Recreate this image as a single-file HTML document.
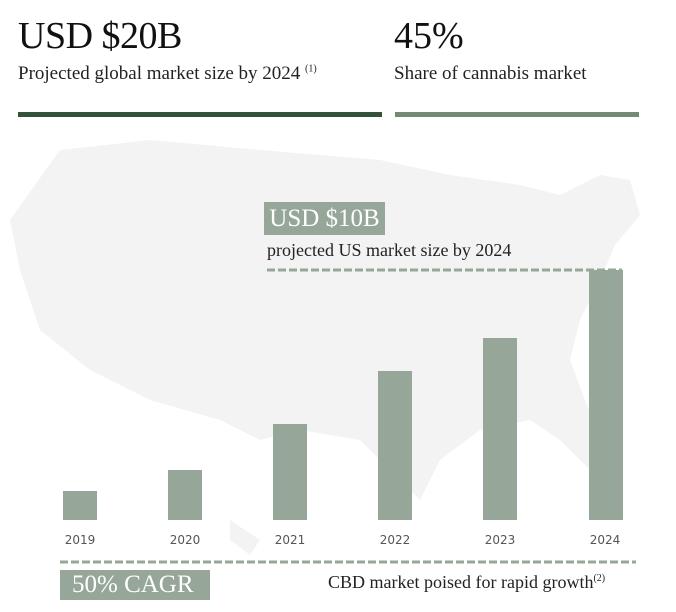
<!DOCTYPE html>
<html><head><style>
body{margin:0;width:676px;height:612px;background:#fff;position:relative;overflow:hidden;font-family:"Liberation Serif",serif;}
.a{position:absolute;}
.bar{position:absolute;background:#96a698;width:34px;}
.yr{position:absolute;top:533px;font-family:"DejaVu Sans",sans-serif;font-size:12px;color:#555;width:60px;text-align:center;}
</style></head><body>
<svg class="a" style="left:0;top:0" width="676" height="612">
<path d="M60,150 L150,140 L260,150 L380,160 L450,175 L520,185 L560,195 L600,175 L630,180 L640,215 L615,245 L600,280 L580,320 L570,360 L585,400 L600,440 L590,470 L560,440 L530,420 L480,430 L440,460 L420,500 L400,480 L360,440 L300,430 L260,440 L220,420 L150,400 L90,370 L40,330 L20,270 L10,220 Z" fill="#f3f3f3"/>
<path d="M230,520 L260,540 L250,555 L230,540 Z" fill="#f3f3f3"/>
<line x1="267" y1="270" x2="622" y2="270" stroke="#96a698" stroke-width="3" stroke-dasharray="8,3"/>
<line x1="60" y1="562" x2="636" y2="562" stroke="#96a698" stroke-width="3" stroke-dasharray="8,3"/>
</svg>
<div class="a" style="left:18px;top:14px;font-size:38px;color:#111;letter-spacing:-0.5px">USD $20B</div>
<div class="a" style="left:18px;top:63px;font-size:19px;color:#222">Projected global market size by 2024 <sup style="font-size:10px">(1)</sup></div>
<div class="a" style="left:394px;top:14px;font-size:38px;color:#111">45%</div>
<div class="a" style="left:394px;top:63px;font-size:19px;color:#222">Share of cannabis market</div>
<div class="a" style="left:18px;top:112px;width:364px;height:5px;background:#34513a"></div>
<div class="a" style="left:395px;top:112px;width:244px;height:5px;background:#728a76"></div>
<div class="a" style="left:264px;top:202px;width:121px;height:33px;background:#96a698;color:#fff;font-size:25px;line-height:33px;text-align:center">USD $10B</div>
<div class="a" style="left:267px;top:240px;font-size:18px;color:#222">projected US market size by 2024</div>
<div class="bar" style="left:63px;top:491px;height:29px"></div>
<div class="bar" style="left:168px;top:470px;height:50px"></div>
<div class="bar" style="left:273px;top:424px;height:96px"></div>
<div class="bar" style="left:378px;top:371px;height:149px"></div>
<div class="bar" style="left:483px;top:338px;height:182px"></div>
<div class="bar" style="left:589px;top:270px;height:250px"></div>
<div class="yr" style="left:50px">2019</div>
<div class="yr" style="left:155px">2020</div>
<div class="yr" style="left:260px">2021</div>
<div class="yr" style="left:365px">2022</div>
<div class="yr" style="left:470px">2023</div>
<div class="yr" style="left:575px">2024</div>
<div class="a" style="left:60px;top:570px;height:30px;background:#96a698;color:#fff;font-size:25px;line-height:30px;padding-left:12px;width:138px">50% CAGR</div>
<div class="a" style="left:328px;top:572px;font-size:18px;color:#222">CBD market poised for rapid growth<sup style="font-size:10px">(2)</sup></div>
</body></html>
